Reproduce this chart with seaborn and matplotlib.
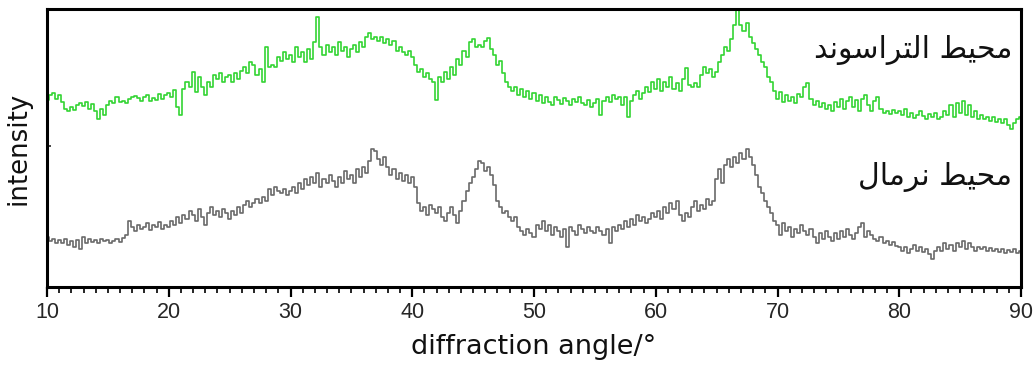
import numpy as np
import pandas as pd
import matplotlib
matplotlib.use("Agg")
import matplotlib.pyplot as plt
import seaborn as sns
from matplotlib.ticker import MultipleLocator

# ---------------- data ----------------
angle_start, angle_step = 10.0, 0.25
angles = np.round(np.arange(angle_start, 90.0 + 1e-9, angle_step), 2)

# ultrasound medium (green trace), relative intensity
ultrasound = [
    187, 192, 194, 188, 192, 185, 178, 176, 180, 177, 182, 184, 181, 185, 178, 183, 176, 168, 178, 172,
    182, 186, 184, 190, 185, 186, 184, 188, 190, 191, 189, 186, 190, 192, 186, 189, 187, 193, 188, 192,
    194, 190, 197, 180, 172, 198, 205, 200, 215, 195, 210, 200, 192, 205, 200, 212, 208, 214, 205, 210,
    212, 205, 214, 208, 216, 220, 214, 225, 222, 212, 218, 205, 240, 220, 222, 220, 230, 226, 235, 228,
    232, 225, 240, 230, 235, 225, 238, 228, 245, 270, 240, 232, 242, 235, 240, 232, 245, 236, 240, 230,
    238, 242, 235, 245, 240, 250, 254, 248, 250, 246, 250, 244, 248, 242, 246, 236, 240, 235, 232, 236,
    230, 222, 215, 218, 210, 214, 208, 205, 187, 210, 205, 215, 208, 220, 212, 228, 222, 236, 230, 245,
    248, 240, 242, 240, 246, 249, 238, 232, 222, 226, 214, 205, 200, 196, 200, 192, 198, 190, 196, 188,
    194, 186, 192, 184, 190, 185, 182, 190, 187, 183, 189, 186, 182, 188, 185, 190, 184, 182, 187, 180,
    184, 188, 172, 186, 190, 185, 192, 188, 190, 182, 190, 170, 186, 192, 196, 188, 194, 200, 195, 205,
    198, 208, 196, 205, 200, 210, 198, 204, 196, 208, 219, 202, 200, 204, 200, 212, 220, 214, 218, 210,
    215, 225, 232, 240, 236, 248, 262, 278, 262, 256, 264, 250, 244, 238, 232, 225, 220, 210, 205, 196,
    188, 195, 185, 192, 186, 190, 184, 193, 190, 200, 204, 188, 182, 186, 180, 184, 178, 182, 176, 185,
    180, 188, 178, 186, 190, 180, 187, 176, 188, 192, 182, 176, 186, 190, 178, 174, 176, 173, 177, 174,
    176, 172, 178, 170, 174, 169, 172, 176, 171, 168, 173, 170, 174, 168, 170, 176, 172, 182, 170, 184,
    174, 186, 172, 182, 170, 176, 168, 172, 168, 170, 166, 170, 165, 168, 164, 168, 162, 158, 164, 168,
    170,
]

# normal medium (grey trace), relative intensity
normal = [
    50, 46, 48, 44, 47, 44, 48, 42, 46, 40, 47, 38, 50, 44, 48, 45, 47, 44, 48, 46,
    47, 44, 46, 48, 45, 49, 52, 66, 60, 56, 62, 58, 60, 64, 57, 62, 60, 65, 58, 62,
    60, 66, 62, 70, 64, 72, 68, 76, 72, 66, 78, 70, 62, 74, 80, 72, 76, 70, 78, 74,
    68, 76, 72, 80, 74, 82, 86, 80, 84, 88, 84, 90, 86, 98, 92, 100, 96, 94, 98, 92,
    96, 100, 94, 104, 98, 108, 102, 110, 104, 114, 100, 108, 104, 112, 106, 100, 110, 104, 116, 108,
    112, 104, 118, 110, 120, 114, 126, 138, 136, 128, 122, 130, 120, 112, 118, 108, 114, 106, 112, 104,
    110, 100, 84, 76, 80, 72, 82, 78, 74, 80, 70, 66, 74, 80, 72, 64, 76, 86, 96, 104,
    110, 118, 126, 124, 116, 120, 112, 102, 86, 80, 74, 76, 70, 66, 70, 60, 56, 52, 58, 54,
    50, 62, 58, 66, 56, 62, 52, 60, 56, 50, 58, 40, 60, 56, 52, 62, 58, 54, 60, 56,
    54, 60, 56, 52, 58, 44, 60, 56, 62, 58, 66, 60, 68, 62, 72, 66, 70, 64, 68, 74,
    70, 76, 68, 80, 74, 84, 78, 86, 72, 66, 74, 70, 80, 86, 76, 82, 78, 88, 82, 86,
    108, 118, 104, 122, 128, 120, 130, 124, 134, 128, 138, 130, 122, 112, 100, 94, 86, 80, 74, 66,
    62, 52, 64, 56, 60, 50, 58, 54, 62, 56, 52, 58, 50, 44, 54, 48, 56, 50, 46, 54,
    48, 56, 50, 58, 52, 48, 54, 60, 64, 50, 56, 52, 48, 46, 50, 44, 46, 42, 45, 41,
    40, 36, 40, 34, 38, 42, 36, 40, 35, 38, 33, 28, 36, 40, 36, 44, 38, 42, 36, 44,
    40, 46, 38, 44, 40, 36, 40, 38, 40, 36, 39, 36, 38, 35, 38, 34, 37, 35, 38, 34,
    36,
]

# labels (Arabic, pre-shaped into visual order so matplotlib renders it joined)
label_ultrasound = "\uFEAA\uFEE7\uFEEE\uFEB3\uFE8D\uFEAE\uFE98\uFEDF\uFE8D \uFEC2\uFEF4\uFEA4\uFEE3"   # محيط التراسوند
label_normal = "\uFEDD\uFE8E\uFEE3\uFEAE\uFEE7 \uFEC2\uFEF4\uFEA4\uFEE3"                         # محيط نرمال
xlabel = "diffraction angle/\u00b0"
ylabel = "intensity"
xticks = [10, 20, 30, 40, 50, 60, 70, 80, 90]

# ---------------- plot ----------------
sns.set_theme(style="white")
plt.rcParams["font.family"] = ["DejaVu Sans", "Noto Sans"]

W, H = 1034, 367
fig = plt.figure(figsize=(W / 100, H / 100), dpi=100)
ax = fig.add_axes([47 / W, 1 - 287 / H, (1021 - 47) / W, (287 - 9) / H])

df = pd.DataFrame({"angle": np.concatenate([angles, angles]),
                   "intensity": np.concatenate([ultrasound, normal]),
                   "medium": ["ultrasound"] * len(angles) + ["normal"] * len(angles)})

sns.lineplot(data=df, x="angle", y="intensity", hue="medium",
             palette={"ultrasound": "#33d433", "normal": "#6a6a6a"},
             drawstyle="steps-mid", linewidth=1.2, legend=False, ax=ax)

ax.set_xlim(10, 90)
ax.set_ylim(0, 278)
ax.set_xticks(xticks)
ax.set_xticklabels([str(t) for t in xticks], family=["Liberation Sans"], fontsize=15.5)
ax.xaxis.set_minor_locator(MultipleLocator(1))
ax.set_yticks([141])
ax.set_yticklabels([])

ax.tick_params(axis="x", which="major", direction="out", length=7, width=1.6,
               color="black", pad=4, bottom=True)
ax.tick_params(axis="x", which="minor", direction="out", length=4, width=1.2,
               color="black", bottom=True)
ax.tick_params(axis="y", which="major", direction="in", length=3, width=1.2, left=True)

for s in ax.spines.values():
    s.set_color("black")
    s.set_linewidth(2.2)

ax.set_xlabel(xlabel, fontsize=19.5, labelpad=8, color="#111111")
ax.set_ylabel(ylabel, fontsize=18.7, labelpad=8, color="#111111")

ax.text(89.3, 237, label_ultrasound, ha="right", va="center", fontsize=21.5,
        color="#111111", family=["DejaVu Sans", "Noto Sans"])
ax.text(89.3, 110, label_normal, ha="right", va="center", fontsize=21.5,
        color="#111111", family=["DejaVu Sans", "Noto Sans"])

fig.savefig("out.png", dpi=100, facecolor="white")
